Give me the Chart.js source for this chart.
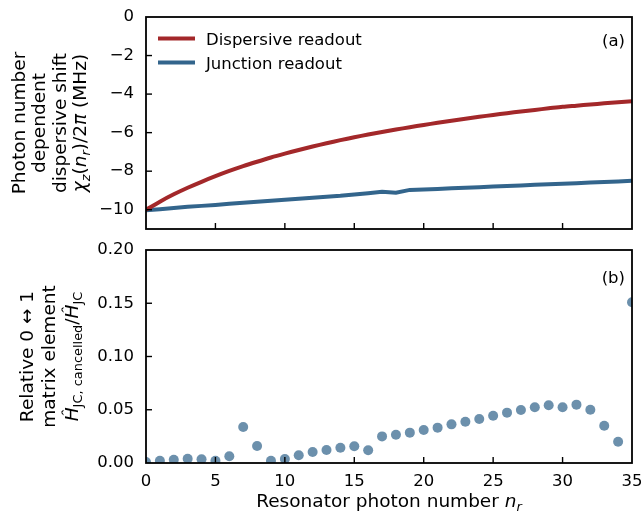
<!DOCTYPE html>
<html>
<head>
<meta charset="utf-8">
<script src="https://cdn.jsdelivr.net/npm/chart.js@4.4.1/dist/chart.umd.min.js"></script>
<style>
html, body { margin: 0; padding: 0; background: #fff; }
#wrap { position: relative; width: 644px; height: 517px; }
canvas { position: absolute; left: 0; }
#topChart { top: 0; }
#bottomChart { top: 240px; }
</style>
</head>
<body>
<div id="wrap">
  <canvas id="topChart" width="644" height="240"></canvas>
  <canvas id="bottomChart" width="644" height="277"></canvas>
</div>
<script>
// resonator photon number n_r
const photonNumbers = [0, 1, 2, 3, 4, 5, 6, 7, 8, 9, 10, 11, 12, 13, 14, 15, 16, 17,
  18, 19, 20, 21, 22, 23, 24, 25, 26, 27, 28, 29, 30, 31, 32, 33, 34, 35];

// (a) photon number dependent dispersive shift, MHz
const dispersiveShift = [-10.00, -9.58, -9.20, -8.86, -8.55, -8.26, -7.99, -7.74, -7.51, -7.29,
  -7.09, -6.90, -6.72, -6.55, -6.39, -6.24, -6.10, -5.97, -5.84, -5.72,
  -5.60, -5.49, -5.38, -5.28, -5.18, -5.08, -4.99, -4.90, -4.82, -4.74,
  -4.66, -4.60, -4.54, -4.48, -4.42, -4.37];
const junctionShift = [-10.03, -9.97, -9.91, -9.85, -9.80, -9.75, -9.69, -9.64, -9.58, -9.53,
  -9.48, -9.43, -9.38, -9.33, -9.28, -9.21, -9.14, -9.07, -9.12, -8.97,
  -8.95, -8.92, -8.89, -8.86, -8.83, -8.80, -8.77, -8.74, -8.71, -8.68,
  -8.65, -8.62, -8.59, -8.56, -8.53, -8.50];

// (b) relative 0<->1 matrix element
const relativeElement = [0.001, 0.002, 0.003, 0.004, 0.0035, 0.002, 0.0063, 0.0338, 0.016, 0.002,
  0.0038, 0.0072, 0.0103, 0.0122, 0.0144, 0.0157, 0.0119, 0.025, 0.0266, 0.0285,
  0.031, 0.0332, 0.0363, 0.0388, 0.0413, 0.0444, 0.0473, 0.0498, 0.0523, 0.0542,
  0.0523, 0.0548, 0.050, 0.035, 0.020, 0.151];

const xTicks = [0, 5, 10, 15, 20, 25, 30, 35];
const topYTicks = [0, -2, -4, -6, -8, -10];
const bottomYTicks = [0, 0.05, 0.10, 0.15, 0.20];

const FONT = 'DejaVu Sans';
const FS = 16.5;   // ticks, legend, panel labels
const LFS = 18.5;  // axis titles

function segFont(s, size) {
  return (s.i ? 'italic ' : '') + (s.sub ? size * 0.7 : size) + 'px "' + FONT + '"';
}

// draw a line of text made of segments (italic / subscript), centred on x=0
function drawRich(ctx, segs, size) {
  let w = 0;
  segs.forEach(s => { ctx.font = segFont(s, size); s.w = ctx.measureText(s.t).width; w += s.w; });
  let x = -w / 2;
  segs.forEach(s => {
    ctx.font = segFont(s, size);
    ctx.fillText(s.t, x, s.sub ? size * 0.22 : 0);
    x += s.w;
  });
}

const panelDecor = {
  id: 'panelDecor',
  afterDatasetsDraw(chart, args, opts) {
    const ctx = chart.ctx;
    const a = chart.chartArea;
    ctx.save();
    ctx.strokeStyle = '#000';
    // inward ticks
    ctx.lineWidth = 1.4;
    const tl = 6;
    ['x', 'y'].forEach(id => {
      const sc = chart.scales[id];
      sc.ticks.forEach(t => {
        const p = sc.getPixelForValue(t.value);
        ctx.beginPath();
        if (id === 'x') {
          if (p <= a.left + 1 || p >= a.right - 1) return;
          ctx.moveTo(p, a.bottom); ctx.lineTo(p, a.bottom - tl);
        } else {
          if (p <= a.top + 1 || p >= a.bottom - 1) return;
          ctx.moveTo(a.left, p); ctx.lineTo(a.left + tl, p);
        }
        ctx.stroke();
      });
    });
    // frame
    ctx.lineWidth = 1.8;
    ctx.strokeRect(a.left, a.top, a.right - a.left, a.bottom - a.top);

    ctx.fillStyle = '#000';
    ctx.textBaseline = 'alphabetic';
    // panel label
    ctx.font = FS + 'px "' + FONT + '"';
    ctx.textAlign = 'right';
    ctx.fillText(opts.panel, a.right - 7, a.top + opts.panelY);

    // legend
    if (opts.legend) {
      ctx.textAlign = 'left';
      chart.data.datasets.forEach((ds, i) => {
        const y = a.top + 21.5 + i * 24;
        ctx.strokeStyle = ds.borderColor;
        ctx.lineWidth = 4;
        ctx.beginPath();
        ctx.moveTo(a.left + 12, y); ctx.lineTo(a.left + 49, y);
        ctx.stroke();
        ctx.fillText(ds.label, a.left + 60, y + 6);
      });
    }

    // rotated y title
    const cy = (a.top + a.bottom) / 2 + opts.titleShift;
    ctx.textAlign = 'left';
    opts.yTitle.forEach((line, i) => {
      ctx.save();
      ctx.translate(opts.titleX[i], cy);
      ctx.rotate(-Math.PI / 2);
      drawRich(ctx, line, LFS);
      ctx.restore();
    });

    // x title
    if (opts.xTitle) {
      ctx.save();
      ctx.translate((a.left + a.right) / 2, a.bottom + opts.xTitleY);
      drawRich(ctx, opts.xTitle, LFS);
      ctx.restore();
    }
    ctx.restore();
  }
};

const tickFont = { family: FONT, size: FS };
const minus = v => String(v).replace('-', '\u2212');
const fixY = s => { s.width = 146; s.paddingTop = 0; s.paddingBottom = 0; };

const topChart = new Chart(document.getElementById('topChart'), {
  type: 'line',
  data: {
    labels: photonNumbers,
    datasets: [
      {
        label: 'Dispersive readout',
        data: photonNumbers.map((n, i) => ({ x: n, y: dispersiveShift[i] })),
        borderColor: '#a3282a',
        borderWidth: 4,
        pointRadius: 0,
        tension: 0.3
      },
      {
        label: 'Junction readout',
        data: photonNumbers.map((n, i) => ({ x: n, y: junctionShift[i] })),
        borderColor: '#33658c',
        borderWidth: 4,
        pointRadius: 0,
        tension: 0
      }
    ]
  },
  options: {
    responsive: false,
    animation: false,
    devicePixelRatio: 1,
    layout: { padding: { top: 17, right: 12, left: 0, bottom: 0 } },
    plugins: {
      legend: { display: false },
      tooltip: { enabled: false },
      panelDecor: {
        panel: '(a)',
        panelY: 29,
        legend: true,
        titleShift: 0,
        titleX: [25, 45.3, 65.6, 86],
        yTitle: [
          [{ t: 'Photon number' }],
          [{ t: 'dependent' }],
          [{ t: 'dispersive shift' }],
          [{ t: 'χ', i: 1 }, { t: 'z', i: 1, sub: 1 }, { t: '(' }, { t: 'n', i: 1 }, { t: 'r', i: 1, sub: 1 },
           { t: ')/2' }, { t: 'π', i: 1 }, { t: ' (MHz)' }]
        ]
      }
    },
    scales: {
      x: {
        type: 'linear',
        min: 0,
        max: 35,
        afterBuildTicks: s => { s.ticks = xTicks.map(v => ({ value: v })); },
        afterFit: s => { s.height = 11; s.paddingLeft = 0; s.paddingRight = 0; },
        grid: { display: false, drawTicks: false },
        border: { display: false },
        ticks: { display: false }
      },
      y: {
        type: 'linear',
        min: -11,
        max: 0,
        afterBuildTicks: s => { s.ticks = topYTicks.map(v => ({ value: v })); },
        afterFit: fixY,
        grid: { display: false, drawTicks: false },
        border: { display: false },
        ticks: { color: '#000', font: tickFont, padding: 12, callback: v => minus(v) }
      }
    }
  },
  plugins: [panelDecor]
});

const bottomChart = new Chart(document.getElementById('bottomChart'), {
  type: 'scatter',
  data: {
    datasets: [
      {
        label: 'Relative matrix element',
        data: photonNumbers.map((n, i) => ({ x: n, y: relativeElement[i] })),
        backgroundColor: 'rgba(51, 101, 140, 0.72)',
        borderWidth: 0,
        pointRadius: 5,
        clip: 0
      }
    ]
  },
  options: {
    responsive: false,
    animation: false,
    devicePixelRatio: 1,
    layout: { padding: { top: 10, right: 12, left: 0, bottom: 0 } },
    plugins: {
      legend: { display: false },
      tooltip: { enabled: false },
      panelDecor: {
        panel: '(b)',
        panelY: 33,
        legend: false,
        titleShift: 0,
        titleX: [33, 55, 78],
        yTitle: [
          [{ t: 'Relative 0 ↔ 1' }],
          [{ t: 'matrix element' }],
          [{ t: 'Ĥ', i: 1 }, { t: 'JC, cancelled', sub: 1 }, { t: '/' }, { t: 'Ĥ', i: 1 }, { t: 'JC', sub: 1 }]
        ],
        xTitle: [{ t: 'Resonator photon number ' }, { t: 'n', i: 1 }, { t: 'r', i: 1, sub: 1 }],
        xTitleY: 44
      }
    },
    scales: {
      x: {
        type: 'linear',
        min: 0,
        max: 35,
        afterBuildTicks: s => { s.ticks = xTicks.map(v => ({ value: v })); },
        afterFit: s => { s.height = 54; s.paddingLeft = 0; s.paddingRight = 0; },
        grid: { display: false, drawTicks: false },
        border: { display: false },
        ticks: { color: '#000', font: tickFont, padding: 9, maxRotation: 0 }
      },
      y: {
        type: 'linear',
        min: 0,
        max: 0.2,
        afterBuildTicks: s => { s.ticks = bottomYTicks.map(v => ({ value: v })); },
        afterFit: fixY,
        grid: { display: false, drawTicks: false },
        border: { display: false },
        ticks: { color: '#000', font: tickFont, padding: 12, callback: v => Number(v).toFixed(2) }
      }
    }
  },
  plugins: [panelDecor]
});
</script>
</body>
</html>
